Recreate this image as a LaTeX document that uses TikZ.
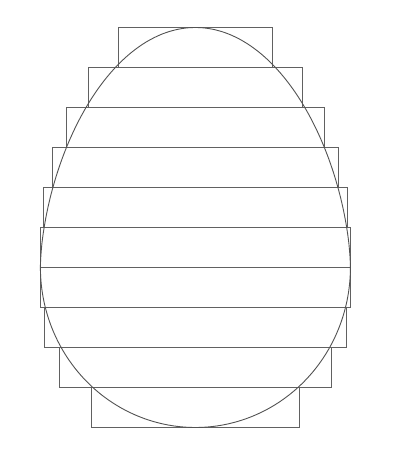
\documentclass[tikz,border=0pt]{standalone}
\begin{document}
\begin{tikzpicture}[x=1pt,y=-1pt,
  bar/.style={draw=black!62,line width=1pt},
  egg/.style={draw=black!68,line width=0.9pt}]
\useasboundingbox (0,0) rectangle (410,452);
\foreach \xa/\ya/\xb/\yb in {118.3/27.3/272.3/67.3, 88.3/67.3/302.3/107.3, 66.7/107.3/324/147.3,
  52.3/147.3/338.3/187.5, 43.3/187.5/347/227.5, 40.3/227.5/350.3/267.5, 40.3/267.5/350.5/307.3,
  44/307.3/346.7/347.3, 59.3/347.3/331.3/387.3, 91/387.3/299.3/427.3}
  \draw[bar] (\xa,\ya) rectangle (\xb,\yb);
\draw[egg] plot[domain=-90:90,samples=120,variable=\t] ({195.4+155*sin(\t)},{267.5+160*cos(\t)})
  -- plot[domain=90:-90,samples=160,variable=\t] ({195.4+155*sin(\t)},{267.5-240*(abs(cos(\t))+0.00001)^1.1765}) -- cycle;
\end{tikzpicture}
\end{document}
